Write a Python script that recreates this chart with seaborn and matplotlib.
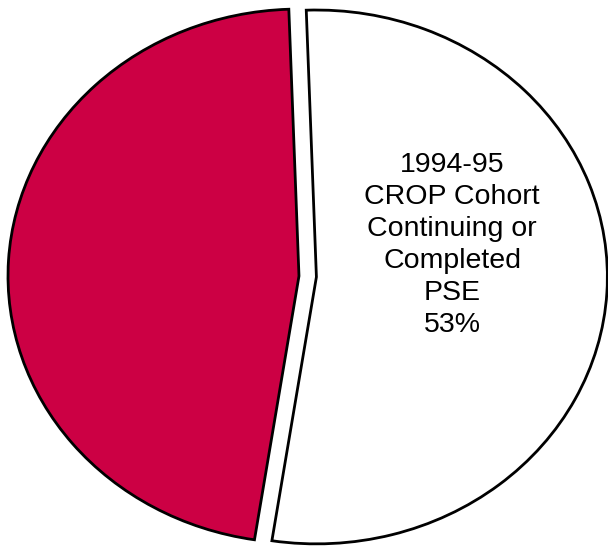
import matplotlib
matplotlib.use("Agg")
import matplotlib.pyplot as plt
import seaborn as sns

# Slice data (clockwise from 12 o'clock)
labels = ["1994-95\nCROP Cohort\nContinuing or\nCompleted\nPSE", "Other"]
shares = [53, 47]
colors = ["#FFFFFF", "#CC0044"]
explode = [0.06, 0.0]

sns.set_theme(style="white")
plt.rcParams["font.family"] = ["Liberation Sans", "DejaVu Sans"]

fig = plt.figure(figsize=(6.08, 5.52), dpi=100)
ax = fig.add_axes([0, 0, 1, 1])

wedges, _ = ax.pie(
    shares,
    colors=colors,
    explode=explode,
    startangle=92,
    counterclock=False,
    wedgeprops=dict(edgecolor="black", linewidth=2),
)

# label inside the white slice
ax.text(
    0.526,
    0.116,
    f"{labels[0]}\n{shares[0]}%",
    ha="center",
    va="center",
    fontsize=20.5,
    linespacing=1.3,
    color="black",
)

# stretch the pie slightly wider than tall, as in the original
ax.set_aspect("auto")
ax.set_xlim(-1.0275, 1.062)
ax.set_ylim(-1.034, 1.034)
ax.axis("off")

fig.savefig("out.png", dpi=100)
